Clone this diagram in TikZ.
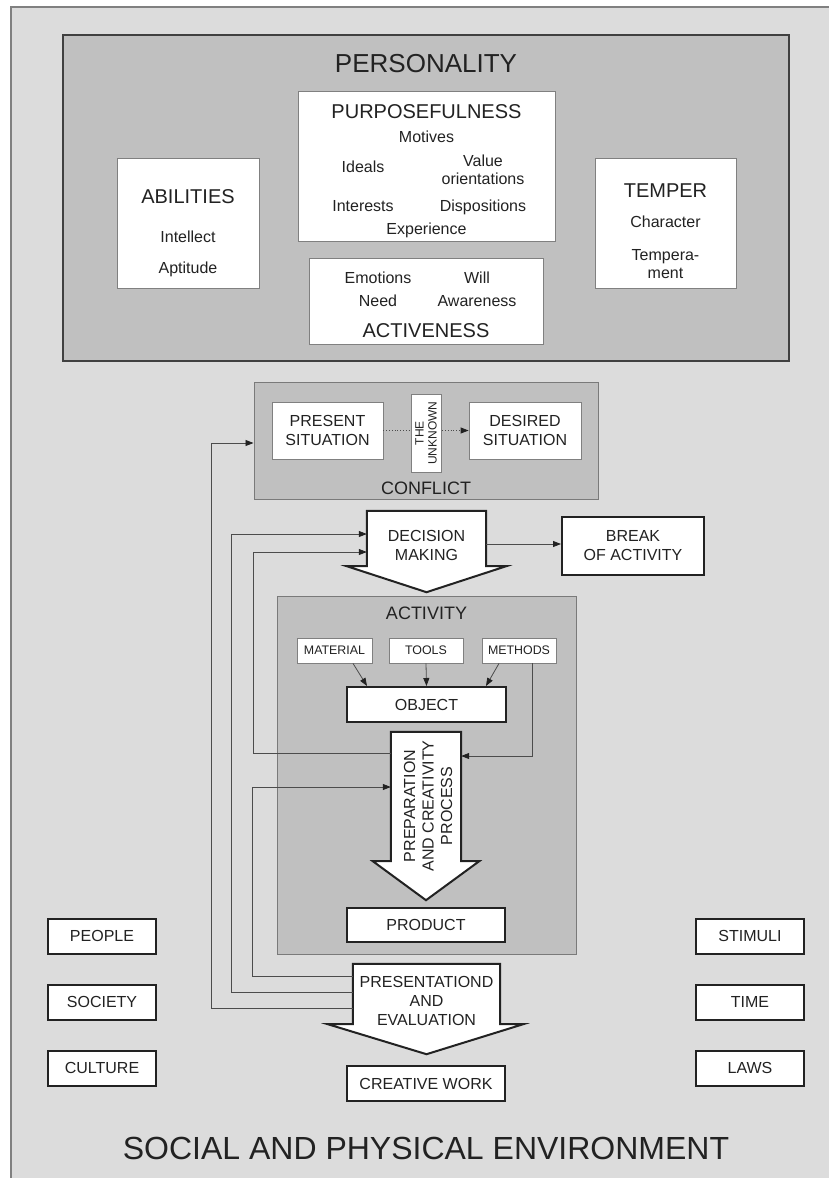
\documentclass[tikz,border=0pt]{standalone}
\usepackage{fontspec}
\setmainfont{Liberation Sans}
\usetikzlibrary{calc}
\usetikzlibrary{arrows.meta}

\definecolor{envgrey}{HTML}{DCDCDC}
\definecolor{panelgrey}{HTML}{C0C0C0}
\definecolor{edgegrey}{HTML}{7A7A7A}
\definecolor{inkgrey}{HTML}{222222}

\begin{document}
\begin{tikzpicture}[x=1pt,y=-1pt,
    panel/.style={draw=edgegrey, fill=panelgrey, line width=1pt, inner sep=0pt},
    card/.style={draw=gray, fill=white, line width=0.8pt, inner sep=0pt, text=inkgrey, align=center},
    boldcard/.style={draw=inkgrey, fill=white, line width=2pt, inner sep=0pt, text=inkgrey,
        font=\fontsize{16}{19}\selectfont, align=center},
    word/.style={text=inkgrey, font=\fontsize{16}{19}\selectfont, anchor=base, inner sep=0pt},
    headword/.style={text=inkgrey, font=\fontsize{20}{24}\selectfont, anchor=base, inner sep=0pt},
    bigarrow/.style={draw=inkgrey, fill=white, line width=2pt, line join=miter},
    fb/.style={draw=gray!60!black, line width=0.8pt, -{Triangle[length=8pt,width=6pt,color=inkgrey]}},
  ]

    \useasboundingbox (0,0) rectangle (829,1178);
    \fill[white] (0,0) rectangle (829,1178);

    % environment
    \fill[envgrey] (11,7) rectangle (829,1178);
    \draw[gray, line width=1.5pt] (11,1178) -- (11,7) -- (829,7);

    % personality
    \node[panel, draw=gray!50!black, line width=1.5pt, minimum width=726, minimum height=326] (personality) at (426,198) {};
    \node[headword, font=\fontsize{26}{30}\selectfont] (perstitle) at (426,72) {PERSONALITY};

    \node[card, minimum width=142, minimum height=130] (abilities) at (188,223) {};
    \node[headword] (abiltitle) at (188,203) {ABILITIES};
    \node[word] (intellect) at (188,242) {Intellect};
    \node[word] (aptitude) at (188,273) {Aptitude};

    \node[card, minimum width=257, minimum height=150] (purpose) at (426.5,166) {};
    \node[headword] (purptitle) at (426.5,118) {PURPOSEFULNESS};
    \node[word] (motives) at (426.5,142) {Motives};
    \node[word] (ideals) at (363,172) {Ideals};
    \node[word] (value) at (483,166) {Value};
    \node[word] (orient) at (483,184) {orientations};
    \node[word] (interests) at (363,211) {Interests};
    \node[word] (dispos) at (483,211) {Dispositions};
    \node[word] (experience) at (426.5,234) {Experience};

    \node[card, minimum width=234, minimum height=86] (active) at (426,301) {};
    \node[word] (emotions) at (378,283) {Emotions};
    \node[word] (will) at (477,283) {Will};
    \node[word] (need) at (378,306) {Need};
    \node[word] (aware) at (477,306) {Awareness};
    \node[headword] (acttitle) at (426,337) {ACTIVENESS};

    \node[card, minimum width=141, minimum height=130] (temper) at (665.5,223) {};
    \node[headword] (tempertitle) at (665.5,197) {TEMPER};
    \node[word] (character) at (665.5,227) {Character};
    \node[word] (tempera) at (665.5,260) {Tempera-};
    \node[word] (ment) at (665.5,278) {ment};

    % conflict
    \node[panel, minimum width=344, minimum height=117] (conflict) at (426,440.5) {};
    \node[word, font=\fontsize{18}{21}\selectfont] (conftitle) at (426,494) {CONFLICT};
    \node[card, minimum width=111, minimum height=57, font=\fontsize{16}{19}\selectfont] (present) at (327.5,430.5) {PRESENT\\SITUATION};
    \node[card, minimum width=112, minimum height=57, font=\fontsize{16}{19}\selectfont] (desired) at (525,430.5) {DESIRED\\SITUATION};
    \draw[dotted, gray!60!black, line width=0.8pt, -{Triangle[length=8pt,width=6pt,color=inkgrey]}] (present.east) -- (desired.west);
    \node[card, rotate=90, minimum width=78, minimum height=30, font=\fontsize{12}{13}\selectfont] (unknown) at (426,433) {THE\\UNKNOWN};

    % decision
    \node[minimum width=119, minimum height=55, inner sep=0pt] (decision) at (426.5,538.5) {};
    \draw[bigarrow] (decision.north west) -- (decision.north east) -- (decision.south east)
        -- ++(20,0) -- ($(decision.south)+(0,26)$) -- ($(decision.south west)+(-20,0)$)
        -- (decision.south west) -- cycle;
    \node[word, anchor=center, align=center] (dectext) at (426.5,545.5) {DECISION\\MAKING};

    \node[boldcard, minimum width=142, minimum height=58] (break) at (633,546) {BREAK\\OF ACTIVITY};

    % activity
    \node[panel, minimum width=299, minimum height=358] (activity) at (426.5,775) {};
    \node[word, font=\fontsize{18}{21}\selectfont] (acttitle2) at (426.5,619) {ACTIVITY};
    \node[card, minimum width=75, minimum height=25, font=\fontsize{12.4}{14}\selectfont] (material) at (334.5,650.5) {MATERIAL};
    \node[card, minimum width=74, minimum height=25, font=\fontsize{12.4}{14}\selectfont] (tools) at (426,650.5) {TOOLS};
    \node[card, minimum width=74, minimum height=25, font=\fontsize{12.4}{14}\selectfont] (methods) at (519,650.5) {METHODS};
    \node[boldcard, minimum width=159, minimum height=35] (object) at (426.5,704.5) {OBJECT};

    \node[minimum width=70, minimum height=129, inner sep=0pt] (prep) at (426,796.5) {};
    \draw[bigarrow] (prep.north west) -- (prep.north east) -- (prep.south east)
        -- ++(18,0) -- ($(prep.south)+(0,39)$) -- ($(prep.south west)+(-18,0)$)
        -- (prep.south west) -- cycle;
    \node[word, anchor=center, align=center, rotate=90, font=\fontsize{16}{18.5}\selectfont] (preptext) at (428,806) {PREPARATION\\AND CREATIVITY\\PROCESS};

    \node[boldcard, minimum width=158, minimum height=34] (product) at (426,925) {PRODUCT};

    % presentation
    \node[minimum width=147, minimum height=60, inner sep=0pt] (present2) at (426.5,994) {};
    \draw[bigarrow] (present2.north west) -- (present2.north east) -- (present2.south east)
        -- ++(23,0) -- ($(present2.south)+(0,30)$) -- ($(present2.south west)+(-25,0)$)
        -- (present2.south west) -- cycle;
    \node[word, anchor=center, align=center] (prestext) at (426.5,1000.5) {PRESENTATIOND\\AND\\EVALUATION};

    \node[boldcard, minimum width=158, minimum height=35] (creative) at (426,1083.5) {CREATIVE WORK};

    % surroundings
    \node[boldcard, minimum width=108, minimum height=35] (people) at (102,936) {PEOPLE};
    \node[boldcard, minimum width=108, minimum height=35] (society) at (102,1002) {SOCIETY};
    \node[boldcard, minimum width=108, minimum height=35] (culture) at (102,1068) {CULTURE};
    \node[boldcard, minimum width=108, minimum height=35] (stimuli) at (750,936) {STIMULI};
    \node[boldcard, minimum width=108, minimum height=35] (time) at (750,1002) {TIME};
    \node[boldcard, minimum width=108, minimum height=35] (laws) at (750,1068) {LAWS};

    \node[headword, font=\fontsize{32}{36}\selectfont] (environment) at (426,1159) {SOCIAL AND PHYSICAL ENVIRONMENT};

    % connectors
    \draw[fb] ($(decision.east)+(0,5.5)$) -- ($(break.west)+(0,-2)$);
    \draw[fb] ($(material.south)+(18.5,0)$) -- ($(object.north)+(-59.5,0)$);
    \draw[fb] (tools.south) -- (object.north);
    \draw[fb] ($(methods.south)+(-20,0)$) -- ($(object.north)+(59.5,0)$);
    \draw[fb] ($(methods.south)+(13,0)$) |- ($(prep.east)+(0,-40.5)$);
    \draw[fb] ($(prep.west)+(0,-43.5)$) -- ++(-137,0) |- ($(decision.west)+(0,13.5)$);
    \draw[fb] ($(present2.west)+(0,-18)$) -- ++(-100,0) |- ($(prep.west)+(0,-9.5)$);
    \draw[fb] ($(present2.west)+(0,-2)$) -- ++(-121,0) |- ($(decision.west)+(0,-4.5)$);
    \draw[fb] ($(present2.west)+(0,14)$) -- ++(-141,0) |- ($(conflict.west)+(0,2.5)$);
\end{tikzpicture}
\end{document}
